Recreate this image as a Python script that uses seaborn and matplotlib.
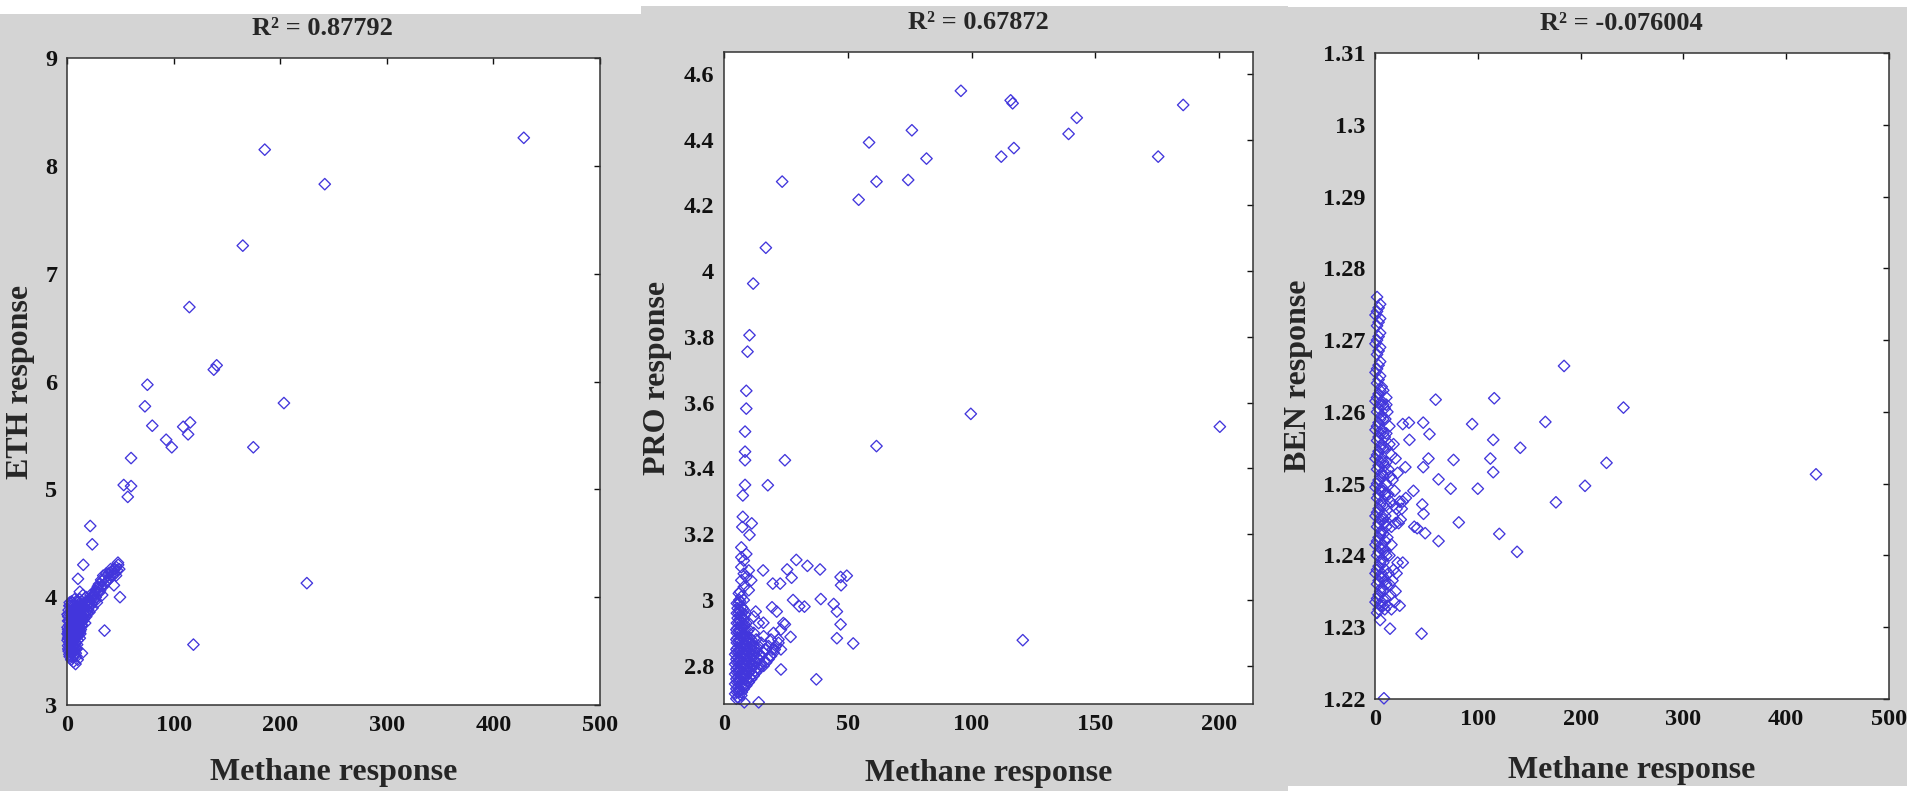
"""Methane response vs ETH / PRO / BEN sensor response, three scatter panels"""
import pandas as pd
import seaborn as sns
import matplotlib.pyplot as plt
from matplotlib.patches import Rectangle
from matplotlib.ticker import FuncFormatter

# ---- panel 1: ETH ----
ETH_X_OUT = [428.5, 185.5, 241.8, 164.9, 114.8, 137.7, 140.4, 75.4, 73.1, 80.0, 203.5, 93.0,
             98.3, 109.0, 115.5, 113.6, 174.8, 60.1, 53.2, 60.1, 57.0, 21.8, 23.7, 225.0,
             118.6, 35.2, 15.3, 10.3, 47.8, 49.7, 41.0, 44.0]
ETH_Y_OUT = [8.26, 8.15, 7.83, 7.26, 6.69, 6.11, 6.15, 5.97, 5.77, 5.59, 5.80, 5.46,
             5.39, 5.58, 5.62, 5.51, 5.39, 5.29, 5.04, 5.03, 4.93, 4.66, 4.49, 4.13,
             3.56, 3.69, 4.30, 4.17, 4.32, 4.00, 4.23, 4.11]
ETH_X_CORE = [1, 1, 1, 1, 1.5, 2, 2, 2, 2, 2.5, 3, 3, 3, 3, 3, 4, 4, 4, 4, 4,
              5, 5, 5, 5, 5, 6, 6, 6, 6, 6, 7, 7, 7, 7, 7, 8, 8, 8, 8, 8,
              9, 9, 9, 9, 10, 10, 10, 10, 10, 11, 11, 11, 12, 12, 12, 12, 13, 13, 13, 14,
              14, 14, 15, 15, 15, 16, 16, 17, 17, 17, 18, 18, 19, 19, 20, 20, 21, 22, 22, 23,
              24, 24, 25, 26, 27, 28, 29, 30, 31, 32, 33, 35, 36, 38, 39, 40, 42, 43, 44, 45,
              46, 47, 48, 12, 18, 28, 33,
              0.5, 0.5, 0.5, 0.5, 1.5, 1.5, 2.5, 2.5, 2.5, 2.5, 3.5, 3.5, 3.5, 3.5, 4.5, 4.5,
              4.5, 4.5, 5.5, 5.5, 5.5, 5.5, 6.5, 6.5, 6.5, 6.5, 7.5, 7.5, 7.5, 7.5, 7.5, 8.5,
              8.5, 8.5, 8.5, 8.5, 9.5, 9.5, 9.5, 9.5, 10.5, 10.5, 10.5, 11.5, 11.5, 11.5, 12.5,
              12.5, 12.5, 13.5, 13.5, 13.5, 14.5, 14.5, 16.5, 16.5, 18.5, 19.5, 21, 23, 25, 26,
              27, 29, 30, 32, 34, 34, 37, 37, 41, 41, 45, 46, 49,
              1.2, 1.2, 1.2, 2.2, 2.2, 2.2, 2.2, 3.2, 3.2, 3.2, 4.2, 4.2, 4.2, 4.2, 5.2, 5.2,
              5.2, 6.2, 6.2, 6.2, 6.2, 7.2, 7.2, 7.2, 8.2, 8.2, 8.2, 9.2, 9.2, 9.2, 10.2, 10.2,
              10.2, 11.2, 11.2, 12.2, 12.2, 12.2, 13.2, 13.2]
ETH_Y_CORE = [3.55, 3.62, 3.70, 3.78, 3.50, 3.58, 3.66, 3.74, 3.85, 3.45,
              3.52, 3.60, 3.68, 3.80, 3.92, 3.42, 3.56, 3.64, 3.72, 3.88,
              3.48, 3.60, 3.70, 3.78, 3.95, 3.40, 3.55, 3.66, 3.75, 3.84,
              3.50, 3.62, 3.72, 3.82, 3.98, 3.38, 3.58, 3.68, 3.78, 3.90,
              3.45, 3.64, 3.74, 3.86, 3.42, 3.60, 3.70, 3.82, 3.95, 3.66,
              3.76, 3.88, 3.62, 3.72, 3.84, 3.98, 3.70, 3.80, 3.92, 3.48,
              3.74, 3.86, 3.78, 3.90, 4.02, 3.80, 3.88, 3.76, 3.86, 3.95,
              3.82, 3.92, 3.85, 3.96, 3.88, 3.98, 3.86, 3.92, 4.02, 3.94,
              3.90, 4.00, 3.97, 4.04, 4.00, 4.08, 4.05, 4.12, 4.06, 4.10,
              4.15, 4.12, 4.18, 4.15, 4.22, 4.18, 4.24, 4.20, 4.26, 4.22,
              4.28, 4.25, 4.30, 4.05, 4.00, 3.95, 4.02,
              3.60, 3.66, 3.72, 3.84, 3.64, 3.88, 3.56, 3.70, 3.78, 3.95, 3.48, 3.62, 3.74, 3.86,
              3.52, 3.68, 3.82, 3.92, 3.44, 3.58, 3.66, 3.88, 3.52, 3.70, 3.80, 3.92, 3.46, 3.56,
              3.66, 3.76, 3.86, 3.52, 3.62, 3.72, 3.84, 3.96, 3.56, 3.68, 3.80, 3.92, 3.64, 3.74,
              3.86, 3.70, 3.80, 3.94, 3.66, 3.78, 3.90, 3.74, 3.84, 3.96, 3.80, 3.92, 3.84, 3.94,
              3.88, 3.92, 3.95, 3.98, 4.02, 3.96, 4.06, 4.10, 4.04, 4.16, 4.10, 4.20, 4.14, 4.22,
              4.20, 4.26, 4.26, 4.20, 4.26,
              3.52, 3.68, 3.82, 3.47, 3.62, 3.78, 3.92, 3.56, 3.72, 3.86, 3.50, 3.66, 3.80, 3.96,
              3.54, 3.74, 3.86, 3.46, 3.62, 3.80, 3.92, 3.56, 3.68, 3.90, 3.48, 3.64, 3.84, 3.52,
              3.70, 3.90, 3.66, 3.78, 3.90, 3.72, 3.84, 3.68, 3.80, 3.92, 3.76, 3.88]

# ---- panel 2: PRO ----
PRO_X_OUT = [95.7, 115.8, 116.6, 185.5, 142.5, 139.2, 75.9, 58.6, 112.0, 117.1, 175.4, 81.8,
             74.4, 61.6, 23.5, 54.4, 16.9, 11.8, 10.3, 9.5, 9.0, 9.0, 99.7, 200.3,
             8.5, 8.5, 8.5, 61.6, 24.6, 8.5, 7.6, 17.7, 7.6, 7.4, 11.2, 10.3,
             120.7, 37.3, 14.0, 8.2, 52.2, 45.6, 47.1, 45.6, 44.3, 39.1, 47.3, 47.1,
             49.6, 38.8, 29.2, 33.7, 25.5, 15.8, 19.7, 22.7, 27.3, 27.9, 30.4, 32.5,
             21.3, 19.4, 12.8, 15.9, 24.6, 26.9, 23.0, 19.7, 23.0]
PRO_Y_OUT = [4.548, 4.519, 4.510, 4.505, 4.466, 4.417, 4.428, 4.391, 4.348, 4.374, 4.348, 4.342,
             4.277, 4.272, 4.272, 4.217, 4.071, 3.962, 3.805, 3.755, 3.636, 3.582, 3.566, 3.527,
             3.512, 3.451, 3.425, 3.468, 3.425, 3.350, 3.318, 3.349, 3.253, 3.222, 3.233, 3.198,
             2.878, 2.759, 2.689, 2.689, 2.868, 2.884, 2.926, 2.965, 2.988, 3.003, 3.045, 3.070,
             3.074, 3.093, 3.122, 3.104, 3.093, 3.090, 3.050, 3.050, 3.068, 3.000, 2.981, 2.980,
             2.965, 2.978, 2.965, 2.931, 2.926, 2.888, 2.850, 2.850, 2.789]
PRO_X_CORE = [5, 5, 5, 5, 5, 5, 5, 5, 6, 6, 6, 6, 6, 6, 6, 6, 6, 6, 6,
              7, 7, 7, 7, 7, 7, 7, 7, 7, 7, 7, 7, 7, 7, 7,
              8, 8, 8, 8, 8, 8, 8, 8, 8, 8, 8, 8, 8,
              9, 9, 9, 9, 9, 9, 9, 9, 10, 10, 10, 10, 10, 10, 10,
              11, 11, 11, 11, 11, 12, 12, 12, 12, 12, 13, 13, 13, 13, 14, 14, 14,
              15, 15, 15, 16, 16, 16, 17, 17, 18, 18, 19, 19, 20, 20, 21, 22, 23, 24,
              12, 14, 10, 9, 11,
              4.5, 4.5, 4.5, 4.5, 4.5, 5.5, 5.5, 5.5, 5.5, 5.5, 5.5, 5.5, 5.5, 5.5, 5.5,
              6.5, 6.5, 6.5, 6.5, 6.5, 6.5, 6.5, 6.5, 6.5, 6.5, 6.5,
              7.5, 7.5, 7.5, 7.5, 7.5, 7.5, 7.5, 7.5, 7.5,
              8.5, 8.5, 8.5, 8.5, 8.5, 8.5, 8.5, 8.5,
              9.5, 9.5, 9.5, 9.5, 9.5, 9.5, 10.5, 10.5, 10.5, 10.5, 10.5,
              11.5, 11.5, 11.5, 11.5, 12.5, 12.5, 12.5, 13.5, 13.5, 13.5,
              14.5, 14.5, 16.5, 16.5, 18.5, 20.5, 22,
              5.2, 5.2, 5.2, 5.2, 5.2, 5.2, 5.2, 5.2, 5.2, 5.2,
              6.2, 6.2, 6.2, 6.2, 6.2, 6.2, 6.2, 6.2, 6.2, 6.2, 6.2,
              7.2, 7.2, 7.2, 7.2, 7.2, 7.2, 7.2, 7.2, 7.2,
              8.2, 8.2, 8.2, 8.2, 8.2, 8.2, 8.2, 9.2, 9.2, 9.2, 9.2, 9.2, 10.2, 10.2, 10.2]
PRO_Y_CORE = [2.70, 2.73, 2.76, 2.79, 2.82, 2.85, 2.88, 2.91,
              2.72, 2.75, 2.78, 2.81, 2.84, 2.87, 2.90, 2.93, 2.96, 2.99, 3.02,
              2.71, 2.74, 2.77, 2.80, 2.83, 2.86, 2.89, 2.92, 2.95, 2.98, 3.01, 3.06, 3.10, 3.13, 3.16,
              2.73, 2.76, 2.79, 2.82, 2.85, 2.88, 2.91, 2.94, 2.97, 3.00, 3.04, 3.08, 3.12,
              2.74, 2.77, 2.80, 2.83, 2.86, 2.89, 2.93, 3.07, 2.75, 2.78, 2.81, 2.84, 2.87, 2.91, 3.09,
              2.76, 2.79, 2.82, 2.85, 2.88, 2.77, 2.80, 2.83, 2.86, 2.90, 2.78, 2.81, 2.84, 2.88,
              2.79, 2.82, 2.86, 2.80, 2.83, 2.87, 2.80, 2.84, 2.89, 2.81, 2.85, 2.82, 2.86,
              2.83, 2.88, 2.84, 2.90, 2.86, 2.88, 2.91, 2.93,
              2.95, 2.93, 3.03, 3.14, 3.06,
              2.715, 2.745, 2.775, 2.805, 2.835, 2.705, 2.735, 2.765, 2.795, 2.825, 2.855, 2.885,
              2.915, 2.945, 2.975,
              2.725, 2.755, 2.785, 2.815, 2.845, 2.875, 2.905, 2.935, 2.965, 2.995, 3.025,
              2.735, 2.765, 2.795, 2.825, 2.855, 2.885, 2.915, 2.945, 2.975,
              2.745, 2.775, 2.805, 2.835, 2.865, 2.895, 2.925, 2.955,
              2.755, 2.785, 2.815, 2.845, 2.875, 2.905, 2.765, 2.795, 2.825, 2.855, 2.885,
              2.775, 2.805, 2.835, 2.865, 2.785, 2.815, 2.845, 2.795, 2.825, 2.855,
              2.805, 2.835, 2.815, 2.850, 2.830, 2.850, 2.870,
              2.72, 2.75, 2.78, 2.81, 2.84, 2.87, 2.90, 2.93, 2.96, 2.99,
              2.70, 2.73, 2.76, 2.79, 2.82, 2.85, 2.88, 2.91, 2.94, 2.97, 3.00,
              2.72, 2.75, 2.78, 2.81, 2.84, 2.87, 2.90, 2.93, 2.96,
              2.74, 2.77, 2.80, 2.83, 2.86, 2.89, 2.92, 2.76, 2.79, 2.82, 2.85, 2.88,
              2.78, 2.81, 2.84]

# ---- panel 3: BEN ----
BEN_X_OUT = [429.0, 183.9, 241.7, 59.0, 116.0, 165.7, 94.5, 46.9, 33.0, 27.0, 53.0, 33.5,
             115.0, 141.3, 76.4, 112.2, 225.2, 52.0, 46.9, 29.5, 115.0, 61.8, 73.6, 100.0,
             204.3, 176.0, 46.0, 37.4, 47.2, 81.5, 38.2, 41.0, 48.8, 61.8, 120.9, 138.2,
             45.3, 14.6, 8.7]
BEN_Y_OUT = [1.2513, 1.2664, 1.2606, 1.2617, 1.2619, 1.2586, 1.2583, 1.2585, 1.2585, 1.2583,
             1.2569, 1.2561, 1.2561, 1.2550, 1.2533, 1.2535, 1.2529, 1.2535, 1.2523, 1.2523,
             1.2516, 1.2506, 1.2493, 1.2493, 1.2497, 1.2474, 1.2471, 1.2490, 1.2458, 1.2446,
             1.2440, 1.2438, 1.2431, 1.2420, 1.2430, 1.2405, 1.2291, 1.2298, 1.2201]
BEN_X_CORE = [2] * 23 + [5] * 23 + [8] * 16 + [11] * 8 + [3.5] * 22 + [6.5] * 16 + [10] * 8 + \
             [15, 18, 21, 24, 27, 30, 16, 20, 25, 14, 18, 22, 27, 14, 20, 12, 16, 24,
              13, 16, 18, 14, 12, 11, 15, 20, 22,
              13, 17, 19, 23, 26, 13, 17, 21, 15, 19, 14, 17, 12, 16] + [0.5] * 11 + [9.5] * 8
BEN_Y_CORE = [1.232, 1.234, 1.236, 1.238, 1.240, 1.242, 1.244, 1.246, 1.248, 1.250, 1.252, 1.254,
              1.256, 1.258, 1.260, 1.262, 1.264, 1.266, 1.268, 1.270, 1.272, 1.274, 1.276,
              1.231, 1.233, 1.235, 1.237, 1.239, 1.241, 1.243, 1.245, 1.247, 1.249, 1.251, 1.253,
              1.255, 1.257, 1.259, 1.261, 1.263, 1.265, 1.267, 1.269, 1.271, 1.273, 1.275,
              1.233, 1.235, 1.237, 1.239, 1.241, 1.243, 1.245, 1.247, 1.249, 1.251, 1.253, 1.255,
              1.257, 1.259, 1.261, 1.263,
              1.236, 1.240, 1.244, 1.247, 1.250, 1.253, 1.257, 1.261,
              1.2325, 1.2345, 1.2365, 1.2385, 1.2405, 1.2425, 1.2445, 1.2465, 1.2485, 1.2505,
              1.2525, 1.2545, 1.2565, 1.2585, 1.2605, 1.2625, 1.2645, 1.2665, 1.2685, 1.2705,
              1.2725, 1.2745,
              1.2335, 1.2355, 1.2375, 1.2395, 1.2415, 1.2435, 1.2455, 1.2475, 1.2495, 1.2515,
              1.2535, 1.2555, 1.2575, 1.2595, 1.2615, 1.2635,
              1.234, 1.238, 1.242, 1.2455, 1.2485, 1.2515, 1.255, 1.259,
              1.2475, 1.2470, 1.2465, 1.2475, 1.2475, 1.2480, 1.2440, 1.2445, 1.2450, 1.2400,
              1.2380, 1.2390, 1.2390, 1.2360, 1.2350, 1.2330, 1.2325, 1.2330,
              1.2520, 1.2540, 1.2555, 1.2580, 1.2600, 1.2620, 1.2510, 1.2535, 1.2515,
              1.2485, 1.2455, 1.2490, 1.2445, 1.2465, 1.2375, 1.2365, 1.2375, 1.2345, 1.2335,
              1.2555, 1.2505, 1.2425, 1.2415,
              1.2335, 1.2375, 1.2415, 1.2455, 1.2495, 1.2535, 1.2575, 1.2615, 1.2655, 1.2695,
              1.2735,
              1.2325, 1.2365, 1.2405, 1.2445, 1.2485, 1.2525, 1.2565, 1.2605]

R2_LABELS = ["R\u00b2 = 0.87792", "R\u00b2 = 0.67872", "R\u00b2 = -0.076004"]
Y_LABELS = ["ETH response", "PRO response", "BEN response"]
X_LABEL = "Methane response"

ETH_XTICKS = [0, 100, 200, 300, 400, 500]
ETH_YTICKS = [3, 4, 5, 6, 7, 8, 9]
PRO_XTICKS = [0, 50, 100, 150, 200]
PRO_YTICKS = [2.8, 3.0, 3.2, 3.4, 3.6, 3.8, 4.0, 4.2, 4.4, 4.6]
BEN_XTICKS = [0, 100, 200, 300, 400, 500]
BEN_YTICKS = [1.22, 1.23, 1.24, 1.25, 1.26, 1.27, 1.28, 1.29, 1.30, 1.31]


def make_df(xo, yo, xc, yc):
    return pd.DataFrame({"methane": list(xo) + list(xc), "resp": list(yo) + list(yc)})


sns.set_style("white")
plt.rcParams['font.family'] = ['Liberation Serif', 'DejaVu Serif']
plt.rcParams['font.weight'] = 'bold'

W, H = 1907, 791
fig = plt.figure(figsize=(W / 100, H / 100), dpi=100, facecolor='white')

GRAY = '#d4d4d4'
BLUE = '#4236dc'

# three pasted screenshots with grey figure backgrounds (px: left, top, right, bottom)
for l, t, r, b in [(0, 14, 641, 791), (641, 6, 1288, 791), (1288, 7, 1907, 786)]:
    fig.add_artist(Rectangle((l / W, 1 - b / H), (r - l) / W, (b - t) / H,
                             transform=fig.transFigure, facecolor=GRAY,
                             edgecolor='none', zorder=-10))

panels = [
    dict(df=make_df(ETH_X_OUT, ETH_Y_OUT, ETH_X_CORE, ETH_Y_CORE), box=(67, 58, 600, 705),
         xlim=(0, 500), ylim=(3, 9), xt=ETH_XTICKS, yt=ETH_YTICKS, ylx=-0.088, xly=-0.105),
    dict(df=make_df(PRO_X_OUT, PRO_Y_OUT, PRO_X_CORE, PRO_Y_CORE), box=(724, 52, 1253, 704),
         xlim=(0, 213.7), ylim=(2.684, 4.666), xt=PRO_XTICKS, yt=PRO_YTICKS, ylx=-0.125, xly=-0.106),
    dict(df=make_df(BEN_X_OUT, BEN_Y_OUT, BEN_X_CORE, BEN_Y_CORE), box=(1375, 53, 1889, 699),
         xlim=(0, 500), ylim=(1.22, 1.31), xt=BEN_XTICKS, yt=BEN_YTICKS, ylx=-0.148, xly=-0.11),
]

fmt = FuncFormatter(lambda v, p: f"{round(v, 6):g}")

for i, pnl in enumerate(panels):
    l, t, r, b = pnl["box"]
    ax = fig.add_axes([l / W, 1 - b / H, (r - l) / W, (b - t) / H])
    ax.set_facecolor('white')
    sns.scatterplot(data=pnl["df"], x="methane", y="resp", ax=ax, marker='D', s=34,
                    color=BLUE, facecolor='none', edgecolor=BLUE, linewidth=0.95,
                    clip_on=False, legend=False)
    ax.set_xlim(*pnl["xlim"])
    ax.set_ylim(*pnl["ylim"])
    ax.set_xticks(pnl["xt"])
    ax.set_yticks(pnl["yt"])
    ax.xaxis.set_major_formatter(fmt)
    ax.yaxis.set_major_formatter(fmt)
    ax.tick_params(direction='in', length=4.5, width=1, top=True, right=True,
                   labelsize=17.5, pad=7, colors='#111111')
    for sp in ax.spines.values():
        sp.set_visible(True)
        sp.set_linewidth(1.1)
        sp.set_color('#333333')
    ax.set_xlabel(X_LABEL, fontsize=23, fontweight='bold', va='center')
    ax.set_ylabel(Y_LABELS[i], fontsize=23, fontweight='bold', va='center')
    ax.xaxis.set_label_coords(0.5, pnl["xly"])
    ax.yaxis.set_label_coords(pnl["ylx"], 0.5)
    ax.text(0.48, 1.045, R2_LABELS[i], transform=ax.transAxes, ha='center', va='center',
            fontsize=19, fontweight='bold')

fig.savefig("out.png", dpi=100, facecolor='white')
